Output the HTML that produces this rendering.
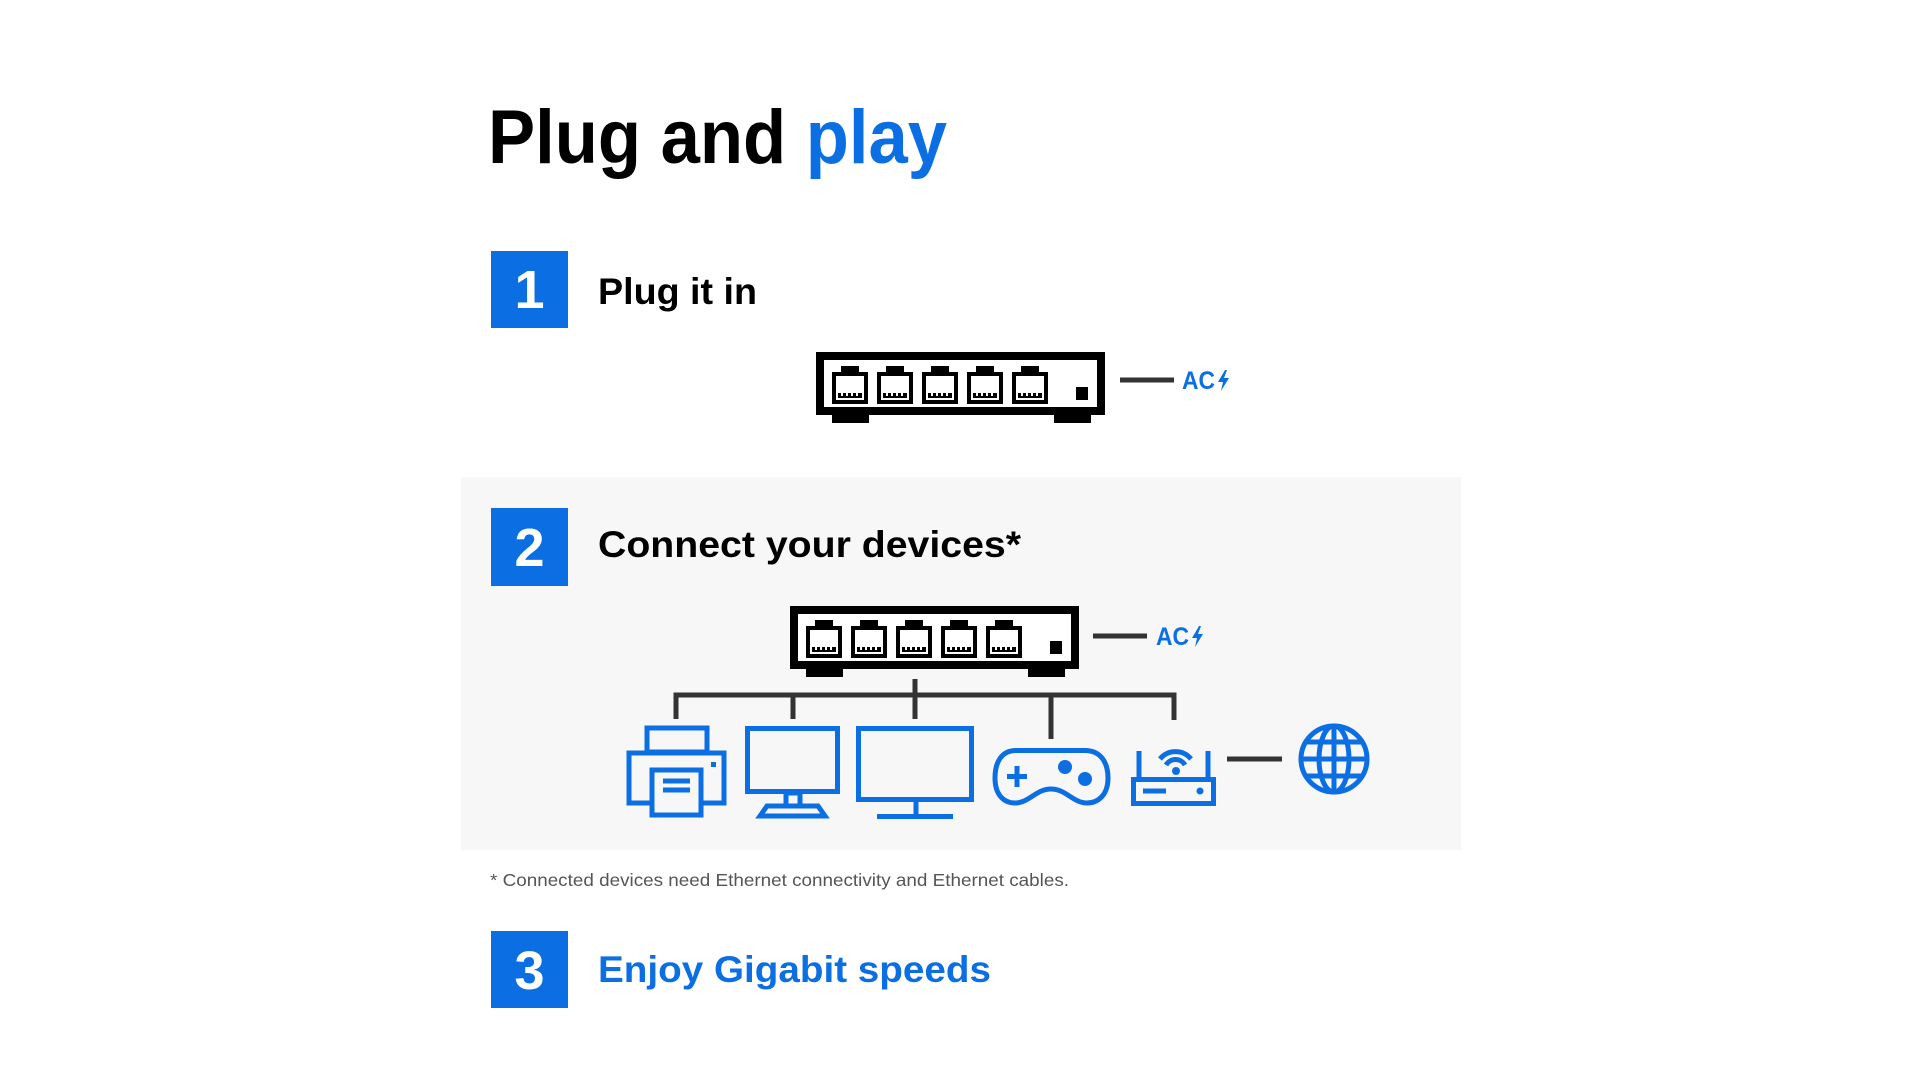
<!DOCTYPE html>
<html><head><meta charset="utf-8"><style>
html,body{margin:0;padding:0;background:#fff;}
svg{display:block;}
text{font-family:"Liberation Sans",sans-serif;font-weight:bold;}
</style></head><body>
<svg width="1920" height="1080" viewBox="0 0 1920 1080" xmlns="http://www.w3.org/2000/svg">
<defs>
<g id="port">
<path d="M0 8 H9 V2 H27 V8 H36 V40 H0 Z" fill="#000"/>
<rect x="4" y="12" width="28" height="24" fill="#fff"/>
<rect x="6" y="29" width="24" height="5" fill="#000"/>
<rect x="9" y="29" width="2" height="3" fill="#fff"/><rect x="14" y="29" width="2" height="3" fill="#fff"/><rect x="19" y="29" width="2" height="3" fill="#fff"/><rect x="24" y="29" width="2" height="3" fill="#fff"/>
</g>
<g id="sw">
<rect x="4" y="4" width="281" height="55" fill="#fff" stroke="#000" stroke-width="8"/>
<use href="#port" x="16" y="12"/>
<use href="#port" x="61" y="12"/>
<use href="#port" x="106" y="12"/>
<use href="#port" x="151" y="12"/>
<use href="#port" x="196" y="12"/>
<rect x="260" y="35" width="12" height="13" fill="#000"/>
<rect x="16" y="60" width="37" height="11" fill="#000"/>
<rect x="238" y="60" width="37" height="11" fill="#000"/>
</g>
<g id="bolt"><path d="M7 0 L0 12 H5 L3 21 L11 8 H6 L9 0 Z" fill="#0b6fe3"/></g>
</defs>
<rect width="1920" height="1080" fill="#fff"/>
<rect x="461" y="477" width="1000" height="373" fill="#f7f7f7"/>

<text x="488" y="163" font-size="76" textLength="459" lengthAdjust="spacingAndGlyphs" fill="#000">Plug and <tspan fill="#0b6fe3">play</tspan></text>

<rect x="491" y="251" width="77" height="77" fill="#0b6fe3"/>
<text x="529.5" y="308" font-size="54" fill="#fff" text-anchor="middle">1</text>
<text x="598" y="304" font-size="37" textLength="159" lengthAdjust="spacingAndGlyphs" fill="#000">Plug it in</text>

<use href="#sw" x="816" y="352"/>
<line x1="1120" y1="380" x2="1174" y2="380" stroke="#333" stroke-width="5"/>
<text x="1182" y="389" font-size="25" fill="#0b6fe3" textLength="33" lengthAdjust="spacingAndGlyphs">AC</text>
<use href="#bolt" x="1218" y="370"/>

<rect x="491" y="508" width="77" height="78" fill="#0b6fe3"/>
<text x="529.5" y="566" font-size="54" fill="#fff" text-anchor="middle">2</text>
<text x="598" y="557" font-size="37" textLength="423" lengthAdjust="spacingAndGlyphs" fill="#000">Connect your devices*</text>

<use href="#sw" x="790" y="606"/>
<line x1="1093" y1="636" x2="1147" y2="636" stroke="#333" stroke-width="5"/>
<text x="1156" y="645" font-size="25" fill="#0b6fe3" textLength="33" lengthAdjust="spacingAndGlyphs">AC</text>
<use href="#bolt" x="1192" y="626"/>

<g stroke="#333" stroke-width="5" fill="none">
<line x1="915" y1="679" x2="915" y2="719"/>
<polyline points="676,719 676,695 1174,695 1174,720"/>
<line x1="793" y1="695" x2="793" y2="719"/>
<line x1="1051" y1="695" x2="1051" y2="739"/>
<line x1="1227" y1="759" x2="1282" y2="759"/>
</g>

<g stroke="#0b6fe3" stroke-width="5" fill="none">
<rect x="647" y="728" width="60" height="24"/>
<rect x="629" y="753" width="95" height="50"/>
<rect x="652" y="770" width="49" height="45" fill="#f7f7f7"/>
<line x1="663" y1="781" x2="690" y2="781"/><line x1="663" y1="790" x2="690" y2="790"/>
<rect x="747.5" y="728.5" width="90" height="63"/>
<rect x="786" y="793" width="14" height="13"/>
<path d="M767 806 H818 L825 816 H760 Z"/>
<rect x="858.5" y="728.5" width="113" height="71"/>
<line x1="916" y1="801" x2="916" y2="815"/>
<line x1="877" y1="816.5" x2="953" y2="816.5"/>
<path d="M1016 750.5 H1085 C1101 750.5 1108 763 1108 778 C1108 795 1098 803 1087 803 C1073 803 1066 789 1051 789 C1036 789 1029 803 1015 803 C1004 803 995 795 995 778 C995 763 1001 750.5 1016 750.5 Z"/>
<line x1="1139" y1="751" x2="1139" y2="780"/>
<line x1="1208" y1="751" x2="1208" y2="780"/>
<rect x="1133.5" y="779.5" width="80" height="24"/>
<line x1="1143" y1="791" x2="1166" y2="791"/>
<path d="M1160 759 A20 20 0 0 1 1191 759"/>
<path d="M1166 765 A11 11 0 0 1 1185 765"/>
<circle cx="1334" cy="759" r="33"/>
<ellipse cx="1334" cy="759" rx="15" ry="33"/>
<line x1="1334" y1="726" x2="1334" y2="792"/>
<line x1="1301" y1="759" x2="1367" y2="759"/>
<line x1="1306" y1="742" x2="1362" y2="742"/>
<line x1="1306" y1="776" x2="1362" y2="776"/>
</g>
<g fill="#0b6fe3">
<rect x="711" y="762" width="5" height="5"/>
<rect x="1007" y="774" width="20" height="5"/><rect x="1014.5" y="766" width="5" height="21"/>
<circle cx="1065" cy="767" r="7"/><circle cx="1085" cy="779" r="7"/>
<circle cx="1176" cy="771" r="4"/>
<circle cx="1200" cy="791" r="3.5"/>
</g>

<text x="490" y="886" font-size="17.5" style="font-weight:normal" fill="#555" textLength="579" lengthAdjust="spacingAndGlyphs">* Connected devices need Ethernet connectivity and Ethernet cables.</text>

<rect x="491" y="931" width="77" height="77" fill="#0b6fe3"/>
<text x="529.5" y="989" font-size="54" fill="#fff" text-anchor="middle">3</text>
<text x="598" y="982" font-size="37" textLength="393" lengthAdjust="spacingAndGlyphs" fill="#0b6fe3">Enjoy Gigabit speeds</text>
</svg>
</body></html>
